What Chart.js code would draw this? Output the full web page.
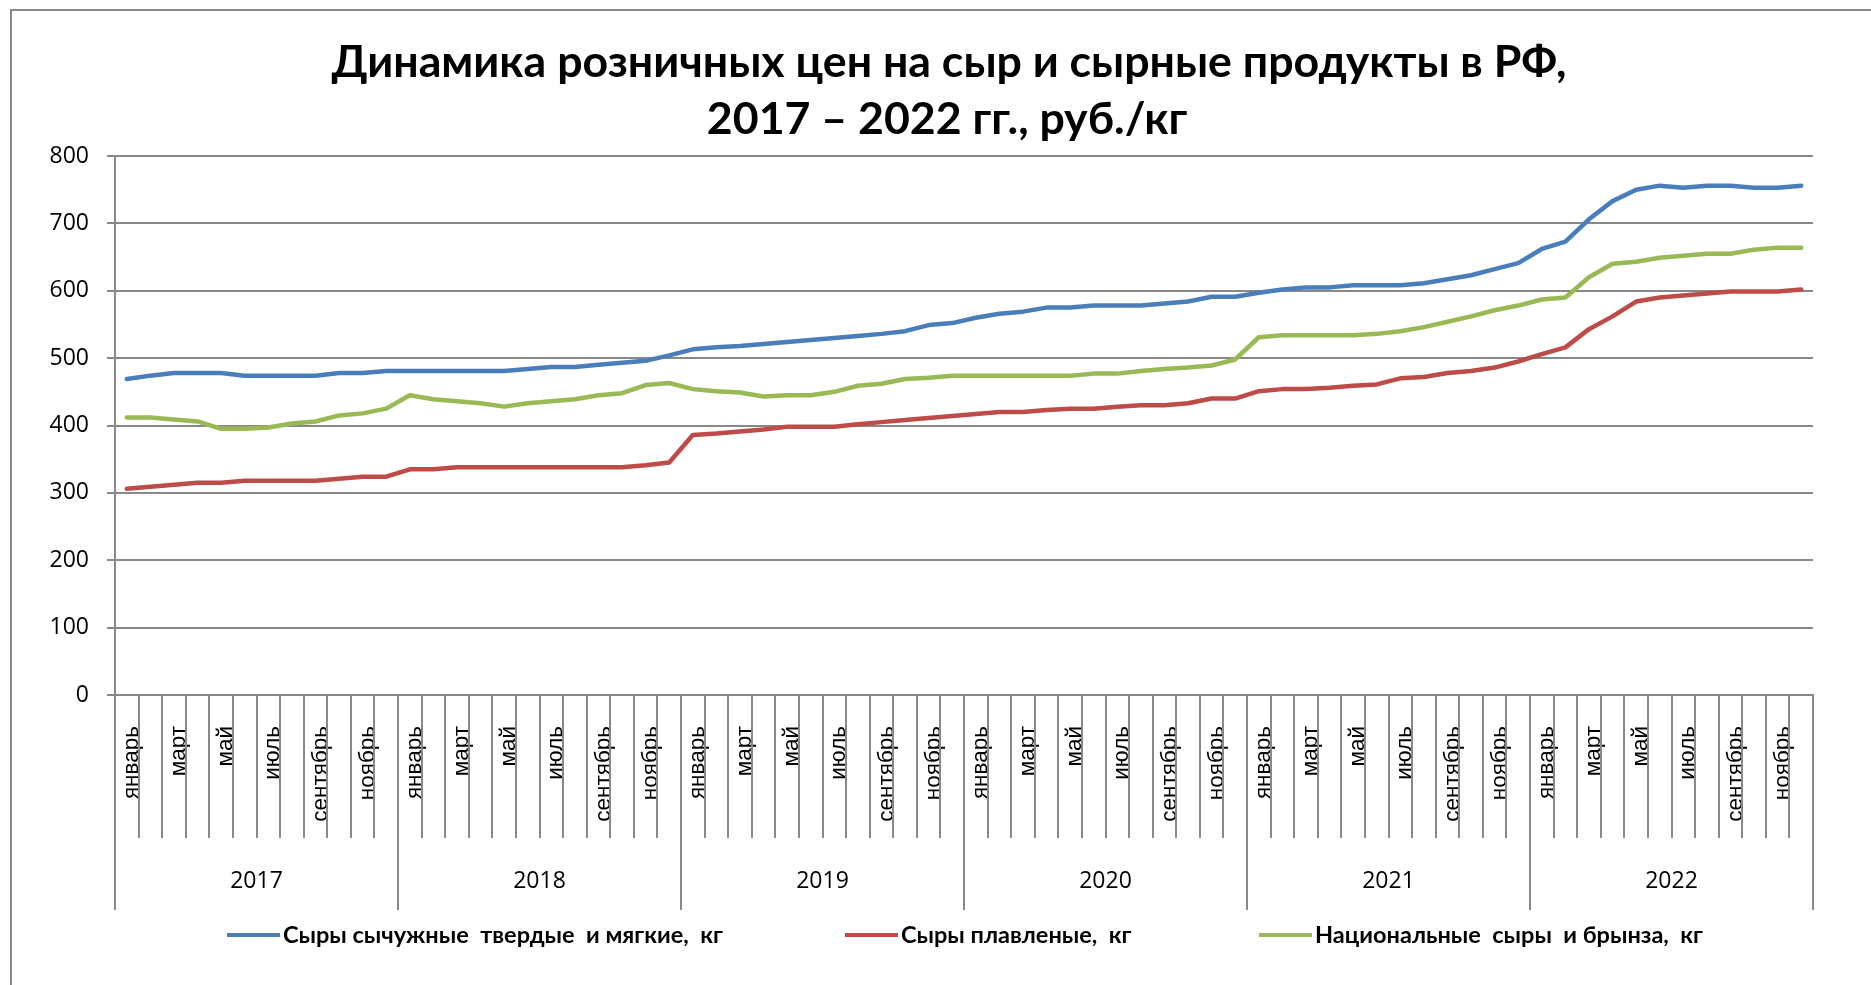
<!DOCTYPE html>
<html lang="ru">
<head>
<meta charset="utf-8">
<script src="https://cdn.jsdelivr.net/npm/chart.js@4.4.1/dist/chart.umd.min.js"></script>
<style>
  html, body { margin: 0; padding: 0; background: #ffffff; }
  canvas { display: block; }
</style>
</head>
<body>
<canvas id="c" width="1871" height="985"></canvas>
<script>
// ---- data ----
const titleLines = ['Динамика розничных цен на сыр и сырные продукты в РФ,', '2017 – 2022 гг., руб./кг'];
const years = ['2017', '2018', '2019', '2020', '2021', '2022'];
const months = ['январь', 'февраль', 'март', 'апрель', 'май', 'июнь', 'июль', 'август', 'сентябрь', 'октябрь', 'ноябрь', 'декабрь'];
const yTicks = [0, 100, 200, 300, 400, 500, 600, 700, 800];

const seriesNames = [
  'Сыры сычужные  твердые  и мягкие,  кг',
  'Сыры плавленые,  кг',
  'Национальные  сыры  и брынза,  кг'
];

const hardCheese = [
  469, 474, 478, 478, 478, 474, 474, 474, 474, 478, 478, 481,
  481, 481, 481, 481, 481, 484, 487, 487, 490, 493, 496, 504,
  513, 516, 518, 521, 524, 527, 530, 533, 536, 540, 549, 552,
  560, 566, 569, 575, 575, 578, 578, 578, 581, 584, 591, 591,
  597, 602, 605, 605, 608, 608, 608, 611, 617, 623, 632, 641,
  662, 673, 706, 733, 750, 756, 753, 756, 756, 753, 753, 756
];
const processedCheese = [
  306, 309, 312, 315, 315, 318, 318, 318, 318, 321, 324, 324,
  335, 335, 338, 338, 338, 338, 338, 338, 338, 338, 341, 345,
  386, 388, 391, 394, 398, 398, 398, 402, 405, 408, 411, 414,
  417, 420, 420, 423, 425, 425, 428, 430, 430, 433, 440, 440,
  451, 454, 454, 456, 459, 461, 470, 472, 478, 481, 486, 495,
  506, 516, 543, 562, 584, 590, 593, 596, 599, 599, 599, 602
];
const nationalCheese = [
  412, 412, 409, 406, 395, 395, 397, 403, 406, 415, 418, 425,
  445, 439, 436, 433, 428, 433, 436, 439, 445, 448, 460, 463,
  454, 451, 449, 443, 445, 445, 450, 459, 462, 469, 471, 474,
  474, 474, 474, 474, 474, 477, 477, 481, 484, 486, 489, 498,
  531, 534, 534, 534, 534, 536, 540, 546, 554, 562, 571, 578,
  587, 590, 620, 640, 643, 649, 652, 655, 655, 661, 664, 664
];

// ---- styles ----
const GRID = '#888888';
const COLORS = ['#4a7ebb', '#be4b48', '#98b954'];
const labels = [];
years.forEach(y => months.forEach(m => labels.push(m)));

const decor = {
  id: 'decor',
  afterDraw(chart) {
    const { ctx, chartArea } = chart;
    const x = chart.scales.x;
    const n = labels.length;
    ctx.save();
    // outer frame (left and top)
    ctx.strokeStyle = GRID;
    ctx.lineWidth = 2;
    ctx.beginPath();
    ctx.moveTo(11, 1000); ctx.lineTo(11, 10); ctx.lineTo(1880, 10);
    ctx.stroke();
    // category separators (two-level axis)
    for (let i = 0; i <= n; i++) {
      const px = Math.round(x.getPixelForValue(i - 0.5));
      const yEnd = (i % 12 === 0) ? 910 : 838;
      ctx.beginPath();
      ctx.moveTo(px, chartArea.bottom);
      ctx.lineTo(px, yEnd);
      ctx.stroke();
    }
    // year labels
    ctx.fillStyle = '#000';
    ctx.font = '23px "Open Sans"';
    ctx.textAlign = 'center';
    ctx.textBaseline = 'middle';
    years.forEach((yr, k) => {
      ctx.fillText(yr, x.getPixelForValue(k * 12 + 5.5), 881);
    });
    // title
    ctx.font = 'bold 40px Lato';
    const w0 = ctx.measureText(titleLines[0]).width;
    const tSize = 40 * 1235 / w0;
    ctx.font = 'bold ' + tSize.toFixed(2) + 'px Lato';
    ctx.fillText(titleLines[0], 949, 63);
    ctx.fillText(titleLines[1], 947, 120);
    // legend
    ctx.font = 'bold 20px Lato';
    const lw0 = ctx.measureText(seriesNames[0]).width;
    const lSize = 20 * 440 / lw0;
    ctx.font = 'bold ' + lSize.toFixed(2) + 'px Lato';
    ctx.textAlign = 'left';
    const legendX = [227, 845, 1259];
    const ly = 935;
    chart.data.datasets.forEach((ds, i) => {
      ctx.strokeStyle = ds.borderColor;
      ctx.lineWidth = 4;
      ctx.lineCap = 'butt';
      ctx.beginPath();
      ctx.moveTo(legendX[i], ly);
      ctx.lineTo(legendX[i] + 53, ly);
      ctx.stroke();
      ctx.fillStyle = '#000';
      ctx.fillText(ds.label, legendX[i] + 56, ly);
    });
    ctx.restore();
  }
};

const mkDs = (label, data, color) => ({
  label, data,
  borderColor: color,
  backgroundColor: color,
  borderWidth: 4.5,
  pointRadius: 0,
  pointHoverRadius: 0,
  tension: 0,
  borderCapStyle: 'round',
  borderJoinStyle: 'round',
  fill: false
});

new Chart(document.getElementById('c'), {
  type: 'line',
  data: {
    labels,
    datasets: [
      mkDs(seriesNames[0], hardCheese, COLORS[0]),
      mkDs(seriesNames[1], processedCheese, COLORS[1]),
      mkDs(seriesNames[2], nationalCheese, COLORS[2])
    ]
  },
  options: {
    responsive: false,
    animation: false,
    devicePixelRatio: 1,
    layout: { padding: { top: 156, right: 58, left: 0, bottom: 0 } },
    plugins: {
      legend: { display: false },
      title: { display: false },
      tooltip: { enabled: false }
    },
    scales: {
      x: {
        type: 'category',
        offset: true,
        grid: { display: false, drawTicks: false },
        border: { display: true, color: GRID, width: 2 },
        ticks: {
          autoSkip: false,
          minRotation: 90,
          maxRotation: 90,
          padding: 31,
          labelOffset: 5,
          color: '#000',
          font: { family: '"Liberation Sans"', size: 22.5 },
          callback: function (val, idx) { return idx % 2 === 0 ? this.getLabelForValue(val) : ''; }
        },
        afterFit: (s) => { s.height = 290; }
      },
      y: {
        min: 0,
        max: 800,
        afterBuildTicks: (s) => { s.ticks = yTicks.map(v => ({ value: v })); },
        grid: { color: GRID, lineWidth: 2, tickLength: 8, drawTicks: true },
        border: { display: true, color: GRID, width: 2 },
        ticks: {
          padding: 18,
          color: '#000',
          font: { family: '"Open Sans"', size: 23 }
        },
        afterFit: (s) => { s.width = 115; }
      }
    }
  },
  plugins: [decor]
});
</script>
</body>
</html>
